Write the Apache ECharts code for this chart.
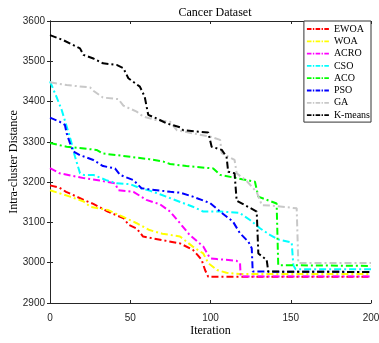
<!DOCTYPE html>
<html><head><meta charset="utf-8">
<script src="https://cdn.jsdelivr.net/npm/echarts@6/dist/echarts.min.js"></script>
<style>html,body{margin:0;padding:0;background:#fff}#c{width:379px;height:343px}</style>
</head><body><div id="c"></div>
<script>
const seriesNames = ['EWOA','WOA','ACRO','CSO','ACO','PSO','GA','K-means'];
const colors = ['#ff0000','#ffff00','#ff00ff','#00ffff','#00ff00','#0000ff','#c8c8c8','#000000'];
const xTicks = [0,50,100,150,200];
const yTicks = [2900,3000,3100,3200,3300,3400,3500,3600];

const EWOA = [[0,3192],[6,3186],[10,3176],[21,3156],[27,3146],[36,3127],[46,3110],[49,3094],[54,3085],[58,3065],[70,3056],[81,3048],[89,3032],[92,3019],[94.5,3007],[96.6,2982],[98.6,2965],[200,2965]];
const WOA = [[0,3180],[12.5,3164],[21,3152],[25,3139],[36,3131],[46,3113],[54,3098],[62,3081],[70,3072],[81,3065],[89,3040],[95.5,3023],[98.6,2999],[104,2982],[110,2975],[118,2972],[200,2972]];
const ACRO = [[0,3235],[6,3222],[21,3210],[31,3204],[40.5,3197],[42.6,3180],[52,3176],[60,3156],[68.5,3145],[74.8,3127],[81,3098],[87,3069],[95.5,3040],[99.7,3011],[104,3009],[116,3005],[118.4,2999],[118.8,2966],[200,2966]];
const CSO = [[0,3450],[4,3412],[7.3,3379],[10.4,3338],[13.5,3296],[15.6,3263],[18.7,3222],[21,3218],[27,3218],[35,3205],[41.5,3197],[50,3195],[56,3185],[62,3179],[68.5,3170],[77,3157],[89,3139],[95.5,3127],[106,3127],[118,3124],[124.6,3106],[131,3085],[137,3069],[142,3058],[144,3056],[150.6,3050],[151.6,2994],[153,2984],[200,2984]];
const ACO = [[0,3297],[10.4,3288],[29,3280],[33,3271],[45.7,3265],[62,3257],[70.6,3251],[74.8,3245],[85,3240],[101.7,3234],[106,3218],[116.3,3210],[127.7,3201],[129.8,3164],[141.2,3147],[142.2,2994],[200,2992]];
const PSO = [[0,3360],[6,3350],[9.3,3342],[10.4,3321],[12.5,3296],[14.5,3276],[18.7,3267],[27,3255],[33,3240],[40.5,3234],[43.6,3218],[52,3205],[57,3185],[62,3182],[75,3176],[81,3174],[89,3164],[99.7,3148],[106,3127],[114,3102],[118.4,3073],[123.6,3052],[125.7,3036],[126.3,2978],[200,2977]];
const GA = [[0,3448],[10.4,3441],[25,3435],[27,3427],[33,3410],[42.6,3406],[45.7,3390],[54,3375],[58,3363],[66,3354],[74.8,3350],[79,3329],[89,3321],[100,3313],[106,3305],[107,3272],[115,3255],[116.3,3222],[122.5,3203],[128.8,3175],[132,3143],[140,3141],[153.7,3135],[154.7,2999],[200,2999]];
const KMEANS = [[0,3565],[8,3553],[18.7,3532],[20.8,3516],[27,3507],[33,3495],[41.5,3491],[45.7,3483],[48.8,3458],[56,3437],[59,3412],[61.2,3367],[66.5,3358],[72.7,3346],[81,3336],[83,3329],[98.6,3323],[100.7,3288],[107,3280],[110,3263],[111,3226],[115,3222],[116.3,3154],[128.8,3127],[129.8,3023],[135,3007],[136,2978],[200,2977]];
const allData = [EWOA, WOA, ACRO, CSO, ACO, PSO, GA, KMEANS];

const axisColor = '#262626';
const serif = '"Liberation Serif", "Times New Roman", serif';
const sans = '"Liberation Sans", Arial, sans-serif';
const dashIcon = 'path://M0,0h5v2h-5z M6.5,0h1.5v2h-1.5z M9.5,0h5v2h-5z M16,0h1.5v2h-1.5z M19,0h5v2h-5z';

const chart = echarts.init(document.getElementById('c'), null, {renderer:'canvas'});
const xBase = {type:'value', min:xTicks[0], max:xTicks[xTicks.length-1], interval:50,
  axisLine:{show:true, lineStyle:{color:axisColor, width:1}},
  axisTick:{show:true, inside:true, length:3, lineStyle:{color:axisColor}},
  splitLine:{show:false}};
const yBase = {type:'value', min:yTicks[0], max:yTicks[yTicks.length-1], interval:100,
  axisLine:{show:true, lineStyle:{color:axisColor, width:1}},
  axisTick:{show:true, inside:true, length:3, lineStyle:{color:axisColor}},
  splitLine:{show:false}};

chart.setOption({
  animation:false,
  backgroundColor:'#ffffff',
  title:{text:'Cancer Dataset', left:210, textAlign:'center', top:2,
    textStyle:{fontFamily:serif, fontWeight:'normal', fontSize:12, color:'#000'}},
  grid:{left:50, right:8, top:21, bottom:40, show:false, containLabel:false, outerBoundsMode:'none'},
  legend:{orient:'vertical', right:8, top:21, data:seriesNames.map((n,i)=>({name:n, icon:dashIcon, itemStyle:{color:colors[i]}})),
    backgroundColor:'#ffffff', borderColor:'#333', borderWidth:1,
    padding:[2,1,1,3], itemWidth:22, itemHeight:2, itemGap:0.3,
    textStyle:{fontFamily:serif, fontSize:10, color:'#000', lineHeight:12}},
  xAxis:[
    Object.assign({}, xBase, {position:'bottom', name:'Iteration', nameLocation:'middle', nameGap:22, nameMoveOverlap:false,
      nameTextStyle:{fontFamily:serif, fontSize:12, color:'#000'},
      axisLabel:{fontFamily:sans, fontSize:10, color:axisColor, margin:10, formatter:v=>String(v)}}),
    Object.assign({}, xBase, {position:'top', axisLabel:{show:false}})
  ],
  yAxis:[
    Object.assign({}, yBase, {position:'left', name:'Intra-cluster Distance', nameLocation:'middle', nameGap:30, nameMoveOverlap:false,
      nameTextStyle:{fontFamily:serif, fontSize:12, color:'#000'},
      axisLabel:{fontFamily:sans, fontSize:10, color:axisColor, margin:5, formatter:v=>String(v)}}),
    Object.assign({}, yBase, {position:'right', axisLabel:{show:false}})
  ],
  series: seriesNames.map((n,i)=>({
    name:n, type:'line', data:allData[i], symbol:'none', showSymbol:false,
    xAxisIndex:0, yAxisIndex:0,
    itemStyle:{color:colors[i]},
    lineStyle:{color:colors[i], width:2, type:[7,3,2,3]}
  }))
});
</script></body></html>
